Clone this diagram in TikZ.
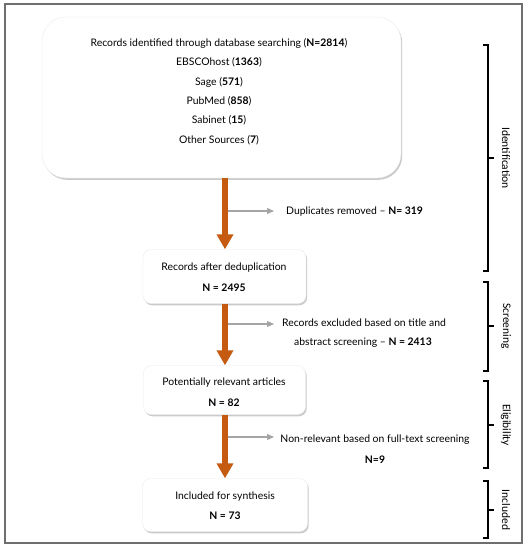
\documentclass[tikz,border=0pt]{standalone}
\usepackage{fontspec}
\setmainfont{Lato}
\newfontfamily\labelfont{Carlito}
\usetikzlibrary{shadows,arrows.meta}
\definecolor{flow}{RGB}{197,90,17}
\definecolor{side}{RGB}{165,165,165}
\definecolor{frame}{RGB}{110,110,110}
\begin{document}
\begin{tikzpicture}[x=1pt,y=-1pt,
  box/.style={draw=black!8, fill=white, rounded corners=8pt,
    drop shadow={opacity=0.35, shadow xshift=1.2pt, shadow yshift=-1.8pt, fill=black!60}},
  txt/.style={font=\fontsize{10.4}{12}\selectfont, inner sep=0pt, anchor=center},
  flowarrow/.style={draw=flow, line width=6.5pt, -{Triangle[width=16pt,length=15pt]}, shorten >=0pt},
  sidearrow/.style={draw=side, line width=1.1pt, -{Triangle[width=6pt,length=7pt]}},
  bracket/.style={draw=black, line width=1.3pt},
  phase/.style={font=\labelfont\fontsize{11.5}{13}\selectfont, rotate=-90, inner sep=0pt}
]
\useasboundingbox (0,0) rectangle (528,550);
\draw[frame, line width=1.6pt] (5,4) rectangle (522,543);

% main boxes
\node[box, rounded corners=24pt, minimum width=359pt, minimum height=161pt] (b1) at (221.5,97.5) {};
\node[box, minimum width=163pt, minimum height=54pt] (b2) at (224.5,276.5) {};
\node[box, minimum width=162pt, minimum height=49pt] (b3) at (224.5,390) {};
\node[box, minimum width=165pt, minimum height=53pt] (b4) at (225,505) {};

% top box texts
\node[txt] (t1) at (219,43) {Records identified through database searching (\textbf{N=2814})};
\node[txt] (t2) at (219,62) {EBSCOhost (\textbf{1363})};
\node[txt] (t3) at (219,82) {Sage (\textbf{571})};
\node[txt] (t4) at (219,101) {PubMed (\textbf{858})};
\node[txt] (t5) at (219,120) {Sabinet (\textbf{15})};
\node[txt] (t6) at (219,140) {Other Sources (\textbf{7})};

\node[txt] (u1) at (224,268) {Records after deduplication};
\node[txt] (u2) at (224,288) {\textbf{N = 2495}};
\node[txt] (v1) at (224,383) {Potentially relevant articles};
\node[txt] (v2) at (224,403) {\textbf{N = 82}};
\node[txt] (w1) at (225,497) {Included for synthesis};
\node[txt] (w2) at (225,516) {\textbf{N = 73}};

% orange flow arrows
\coordinate (a1s) at (225,179);
\coordinate (a2s) at (225,304);
\coordinate (a3s) at (225,415);
\draw[flowarrow] (b1.south -| a1s) -- (b2.north -| a1s);
\draw[flowarrow] (b2.south -| a2s) -- (b3.north -| a2s);
\draw[flowarrow] (b3.south -| a3s) -- (b4.north -| a3s);

% side exclusions
\coordinate (s1) at (228,211);
\coordinate (e1) at (274,211);
\coordinate (s2) at (228,324);
\coordinate (e2) at (274,324);
\coordinate (s3) at (228,437);
\coordinate (e3) at (274,437);
\draw[sidearrow] (s1) -- (e1);
\draw[sidearrow] (s2) -- (e2);
\draw[sidearrow] (s3) -- (e3);
\node[txt, anchor=west] (x1) at (286,212) {Duplicates removed -- \textbf{N= 319}};
\node[txt] (x2a) at (364,323) {Records excluded based on title and};
\node[txt] (x2b) at (363,343) {abstract screening -- \textbf{N = 2413}};
\node[txt] (x3a) at (375,440) {Non-relevant based on full-text screening};
\node[txt] (x3b) at (375,460) {\textbf{N=9}};

% phase brackets
\draw[bracket] (483,45) -- (488,45) -- (488,271) -- (483,271) (488,158) -- (494,158);
\draw[bracket] (483,282) -- (488,282) -- (488,371) -- (483,371) (488,326) -- (494,326);
\draw[bracket] (483,381) -- (488,381) -- (488,468) -- (483,468) (488,425) -- (494,425);
\draw[bracket] (483,481) -- (488,481) -- (488,538) -- (483,538) (488,510) -- (494,510);
\node[phase] (p1) at (506,158) {Identification};
\node[phase] (p2) at (506,326) {Screening};
\node[phase] (p3) at (506,425) {Eligibility};
\node[phase] (p4) at (506,510) {Included};
\end{tikzpicture}
\end{document}
